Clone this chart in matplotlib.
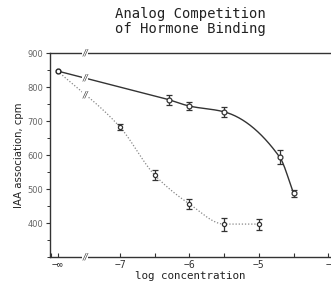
import numpy as np
import matplotlib
matplotlib.use("Agg")
import matplotlib.pyplot as plt
from matplotlib.ticker import MultipleLocator

# ---- data ----
NEG_INF_POS = -7.9          # plotting position used for "-inf"
BREAK_POS = -7.5            # axis break position

solid_x = [-6.3, -6.0, -5.5, -4.7, -4.5]
solid_y = [763, 744, 727, 594, 488]
solid_err = [15, 13, 15, 20, 10]

dotted_x = [-7.0, -6.5, -6.0, -5.5, -5.0]
dotted_y = [682, 541, 456, 397, 397]
dotted_err = [8, 15, 14, 19, 16]

zero_y = 847   # value at -inf (no analog)

xtick_pos = [NEG_INF_POS, -7, -6, -5, -4]
xtick_lbl = ["\u2212\u221e", "\u22127", "\u22126", "\u22125", "\u2212"]
ytick_pos = [400, 500, 600, 700, 800, 900]

mono = "DejaVu Sans Mono"


def pchip(xs, ys, n=200):
    x = np.asarray(xs, float)
    y = np.asarray(ys, float)
    h = np.diff(x)
    d = np.diff(y) / h
    m = np.zeros_like(y)
    m[0], m[-1] = d[0], d[-1]
    for k in range(1, len(x) - 1):
        if d[k - 1] * d[k] <= 0:
            m[k] = 0
        else:
            w1 = 2 * h[k] + h[k - 1]
            w2 = h[k] + 2 * h[k - 1]
            m[k] = (w1 + w2) / (w1 / d[k - 1] + w2 / d[k])
    xx = np.linspace(x[0], x[-1], n)
    yy = np.empty_like(xx)
    for i, xv in enumerate(xx):
        k = min(np.searchsorted(x, xv, side="right") - 1, len(x) - 2)
        t = (xv - x[k]) / h[k]
        h00 = 2 * t**3 - 3 * t**2 + 1
        h10 = t**3 - 2 * t**2 + t
        h01 = -2 * t**3 + 3 * t**2
        h11 = t**3 - t**2
        yy[i] = h00 * y[k] + h10 * h[k] * m[k] + h01 * y[k + 1] + h11 * h[k] * m[k + 1]
    return xx, yy


fig = plt.figure(figsize=(3.31, 2.85), dpi=100)
ax = fig.add_axes([0.151, 0.098, 0.849, 0.716])
ax.set_xlim(-8.01, -3.96)
ax.set_ylim(300, 900)

lc = "#333333"
# solid series
ax.plot([NEG_INF_POS, solid_x[0]], [zero_y, solid_y[0]], color=lc, lw=1.0)
cx, cy = pchip(solid_x, solid_y)
ax.plot(cx, cy, color=lc, lw=1.0)
ax.errorbar(solid_x, solid_y, yerr=solid_err, fmt="o", ms=3.5, mfc="white",
            mec=lc, mew=0.9, ecolor=lc, elinewidth=0.9, capsize=2, capthick=0.9, zorder=5)

# dotted series
dcol = "#888888"
dx, dy = pchip([NEG_INF_POS] + dotted_x, [zero_y] + dotted_y)
ax.plot(dx, dy, color=dcol, lw=0.9, ls=(0, (1, 1.5)))
ax.errorbar(dotted_x, dotted_y, yerr=dotted_err, fmt="o", ms=3.0, mfc="white",
            mec=lc, mew=0.9, ecolor=lc, elinewidth=0.9, capsize=2, capthick=0.9, zorder=5)

# -inf point
ax.plot([NEG_INF_POS], [zero_y], "o", ms=3.5, mfc="white", mec="#222222", mew=1.0, zorder=6)

# break marks
def brk(y):
    ax.text(BREAK_POS, y, "//", fontsize=6, color="#444444", ha="center", va="center",
            style="italic", bbox=dict(fc="white", ec="none", pad=0.2), zorder=7)

fr_s = (BREAK_POS - NEG_INF_POS) / (solid_x[0] - NEG_INF_POS)
brk(zero_y + fr_s * (solid_y[0] - zero_y))
brk(float(np.interp(BREAK_POS, dx, dy)))
brk(900)
brk(300)

# spines
for s in ["top", "bottom", "left"]:
    ax.spines[s].set_color("#333333")
    ax.spines[s].set_linewidth(1.0)
ax.spines["right"].set_visible(False)

ax.set_xticks(xtick_pos)
ax.set_xticklabels(xtick_lbl, fontfamily=mono, fontsize=7, color="#333333")
ax.xaxis.set_minor_locator(MultipleLocator(0.5))
ax.tick_params(axis="x", which="both", direction="in", length=3, width=0.8,
               color="#333333", pad=2, top=False)
ax.set_yticks(ytick_pos)
ax.set_yticklabels([str(v) for v in ytick_pos], fontsize=6, color="#666666")
ax.yaxis.set_minor_locator(MultipleLocator(50))
ax.tick_params(axis="y", which="major", direction="out", length=3, width=0.8, color="#333333", pad=2)
ax.tick_params(axis="y", which="minor", direction="out", length=2, width=0.7, color="#333333")

ax.set_xlabel("log concentration", fontfamily=mono, fontsize=7.8, color="#222222", labelpad=1)
ax.set_ylabel("IAA association, cpm", fontsize=7.3, color="#222222", labelpad=2)

fig.text(0.575, 0.925, "Analog Competition\nof Hormone Binding", fontfamily=mono,
         fontsize=10, ha="center", va="center", linespacing=1.05, color="#222222")

fig.savefig("out.png", dpi=100)
